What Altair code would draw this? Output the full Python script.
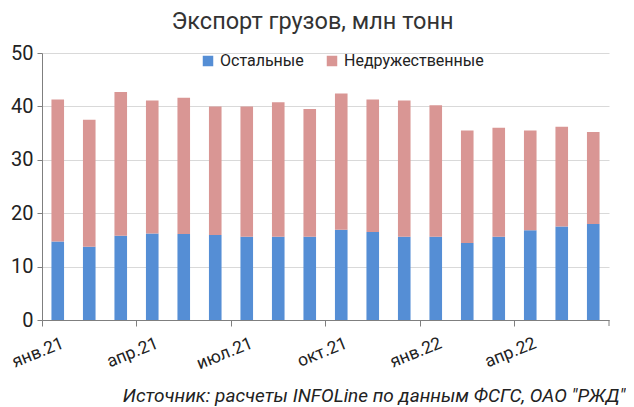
import altair as alt
import pandas as pd

months = ["янв.21", "фев.21", "мар.21", "апр.21", "май.21", "июн.21",
          "июл.21", "авг.21", "сен.21", "окт.21", "ноя.21", "дек.21",
          "янв.22", "фев.22", "мар.22", "апр.22", "май.22", "июн.22"]
other = [14.7, 13.7, 15.8, 16.2, 16.1, 15.9, 15.6, 15.6, 15.6,
         16.9, 16.5, 15.6, 15.6, 14.4, 15.6, 16.8, 17.5, 18.0]
total = [41.3, 37.5, 42.7, 41.1, 41.6, 40.0, 40.0, 40.8, 39.5,
         42.4, 41.3, 41.1, 40.2, 35.5, 36.0, 35.5, 36.2, 35.2]
unfriendly = [round(t - o, 1) for t, o in zip(total, other)]
series = ["Остальные", "Недружественные"]
colors = ["#558ED5", "#D99694"]
tick_months = ["янв.21", "апр.21", "июл.21", "окт.21", "янв.22", "апр.22"]
y_ticks = [0, 10, 20, 30, 40, 50]

rows = []
for m, o, u in zip(months, other, unfriendly):
    rows.append({"month": m, "series": series[0], "value": o, "ord": 0})
    rows.append({"month": m, "series": series[1], "value": u, "ord": 1})
df = pd.DataFrame(rows)

W, H = 567, 267
FONT = "Roboto"

bars = alt.Chart(df).mark_bar(width=alt.RelativeBandSize(0.4)).encode(
    x=alt.X("month:N", sort=months,
            scale=alt.Scale(paddingInner=0, paddingOuter=0),
            axis=alt.Axis(values=tick_months, bandPosition=0, labelAngle=-22,
                          labelAlign="right", labelBaseline="top",
                          labelFontSize=17.5, labelPadding=8, labelOffset=2,
                          tickSize=6, tickColor="#7f7f7f", domainColor="#7f7f7f",
                          labelColor="#222", grid=False,
                          title="Источник: расчеты INFOLine по данным ФСГС, ОАО \"РЖД\"",
                          titleFontStyle="italic", titleFontWeight="normal",
                          titleFontSize=19, titleColor="#222",
                          titleAnchor="end", titleAlign="right",
                          titleBaseline="alphabetic",
                          titleX=583, titleY=81)),
    y=alt.Y("value:Q", stack="zero",
            scale=alt.Scale(domain=[0, 50], nice=False),
            axis=alt.Axis(values=y_ticks, title=None, labelFontSize=20,
                          labelColor="#222", tickSize=5, tickColor="#7f7f7f",
                          domainColor="#7f7f7f", gridColor="#d9d9d9",
                          labelPadding=4)),
    color=alt.Color("series:N", sort=series,
                    scale=alt.Scale(domain=series, range=colors),
                    legend=alt.Legend(orient="none", legendX=158, legendY=0,
                                      direction="horizontal", title=None,
                                      symbolType="square", symbolSize=110,
                                      symbolStrokeWidth=0,
                                      labelFontSize=16, labelColor="#222",
                                      columnPadding=20, labelOffset=4)),
    order=alt.Order("ord:Q", sort="ascending"),
)

end_tick = alt.Chart(pd.DataFrame({"a": [0]})).mark_rule(color="#7f7f7f").encode(
    x=alt.value(W), y=alt.value(H), y2=alt.value(H + 6)
)

chart = alt.layer(bars, end_tick).properties(
    width=W, height=H,
    title=alt.Title("Экспорт грузов, млн тонн", fontSize=23.5, font=FONT,
                    fontWeight="normal", color="#333", anchor="middle",
                    dx=-13, offset=10),
    autosize=alt.AutoSizeParams(type="none"),
    padding={"left": 34, "top": 45, "right": 17, "bottom": 86},
    background="white",
).configure(font=FONT).configure_view(stroke=None)

chart.save("out.html", embed_options={"renderer": "svg", "actions": False})
